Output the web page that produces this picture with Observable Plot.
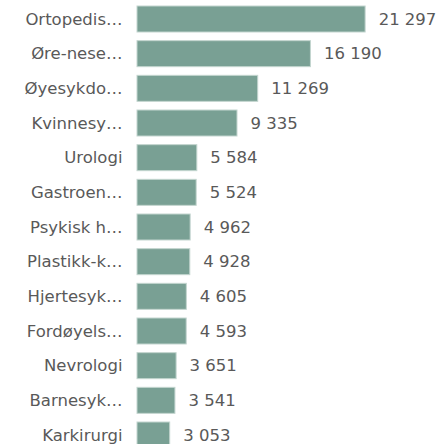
<!DOCTYPE html>
<html>
<head>
<meta charset="utf-8">
<script src="https://cdn.jsdelivr.net/npm/d3@7"></script>
<script src="https://cdn.jsdelivr.net/npm/@observablehq/plot@0.6"></script>
<style>
  html, body { margin: 0; padding: 0; background: #fff; overflow: hidden; }
</style>
</head>
<body>
<div id="chart"></div>
<script>
const categories = [
  "Ortopedis…", "Øre-nese…", "Øyesykdo…", "Kvinnesy…", "Urologi",
  "Gastroen…", "Psykisk h…", "Plastikk-k…", "Hjertesyk…", "Fordøyels…",
  "Nevrologi", "Barnesyk…", "Karkirurgi"
];
const values = [21297, 16190, 11269, 9335, 5584, 5524, 4962, 4928, 4605, 4593, 3651, 3541, 3053];

const data = categories.map((c, i) => ({category: c, value: values[i]}));
const fmt = v => d3.format(",")(v).replace(/,/g, " ");

const chart = Plot.plot({
  width: 438,
  height: 460,
  marginTop: 6,
  marginBottom: 12,
  marginLeft: 137,
  marginRight: 0,
  style: {fontFamily: "'DejaVu Sans', Verdana, sans-serif", fontSize: "16.5px", color: "#595959", background: "#fff"},
  x: {domain: [0, 28100], axis: null},
  y: {domain: categories, paddingInner: 0.25, paddingOuter: 0, align: 0, round: false, label: null},
  marks: [
    Plot.axisY({tickSize: 0, tickPadding: 15, label: null, fill: "#595959", fontSize: 16.5}),
    Plot.barX(data, {x: "value", y: "category", fill: "#79a094", stroke: "#c3d5cf", strokeWidth: 1}),
    Plot.text(data, {x: "value", y: "category", text: d => fmt(d.value), textAnchor: "start", dx: 13, fill: "#595959", fontSize: 16.5})
  ]
});
document.getElementById("chart").appendChild(chart);
</script>
</body>
</html>
